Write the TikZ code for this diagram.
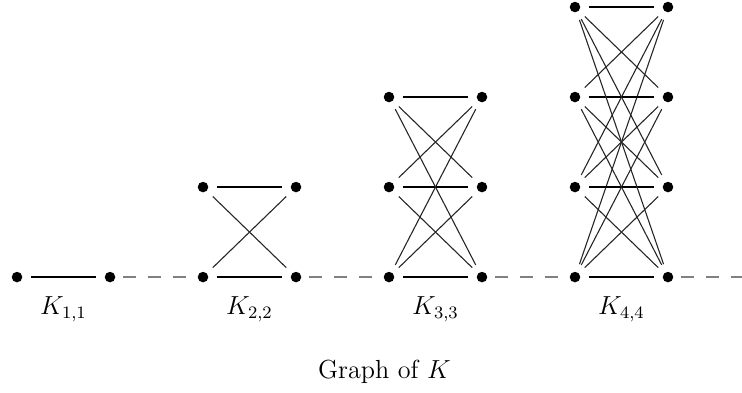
\documentclass[tikz,border=0pt]{standalone}
\usepackage{amsmath}
\usepackage{xcolor}
\usepackage{tikz}
\usetikzlibrary{calc}
\definecolor{linkgray}{RGB}{128,128,128}
\tikzset{
  vtx/.style={fill=black},
  edge/.style={black!85,line width=0.5pt,shorten <=0.22cm,shorten >=0.22cm},
  rung/.style={line width=0.9pt,shorten <=0.22cm,shorten >=0.22cm},
  link/.style={linkgray,line width=0.8pt,dash pattern=on 0.21cm off 0.19cm,shorten <=0.21cm}
}

\begin{document}
\begin{tikzpicture}[x=1.5cm,y=1.452cm,font=\large]
\useasboundingbox (-0.183,-1.278) rectangle (7.796,3.078);
% the vertices of K_{n,n}: left column a, right column b
\foreach \n in {1,2,3,4}{
  \foreach \i in {1,...,\n}{
    \coordinate (a\n-\i) at ({2*(\n-1)},{\i-1});
    \coordinate (b\n-\i) at ({2*(\n-1)+1},{\i-1});
  }
}
% edges
\foreach \n in {1,2,3,4}{
  \foreach \i in {1,...,\n}{
    \foreach \j in {1,...,\n}{
      \ifnum\i=\j
        \draw[rung] (a\n-\i) -- (b\n-\j);
      \else
        \draw[edge] (a\n-\i) -- (b\n-\j);
      \fi
    }
  }
}
% dots
\foreach \n in {1,2,3,4}{
  \foreach \i in {1,...,\n}{
    \fill[vtx] (a\n-\i) circle (0.085cm);
    \fill[vtx] (b\n-\i) circle (0.085cm);
  }
}
% dashed links along the bottom row
\coordinate (tail) at (7.796,0);
\draw[link,shorten >=0.24cm] (b1-1) -- (a2-1);
\draw[link,shorten >=0.24cm] (b2-1) -- (a3-1);
\draw[link,shorten >=0.24cm] (b3-1) -- (a4-1);
\draw[link] (b4-1) -- (tail);
% labels
\node[anchor=base] (lab1) at (0.5,-0.42) {$K_{1,1}$};
\node[anchor=base] (lab2) at (2.5,-0.42) {$K_{2,2}$};
\node[anchor=base] (lab3) at (4.5,-0.42) {$K_{3,3}$};
\node[anchor=base] (lab4) at (6.5,-0.42) {$K_{4,4}$};
\node[anchor=base] (title) at (3.95,-1.122) {Graph of $K$};
\end{tikzpicture}
\end{document}
